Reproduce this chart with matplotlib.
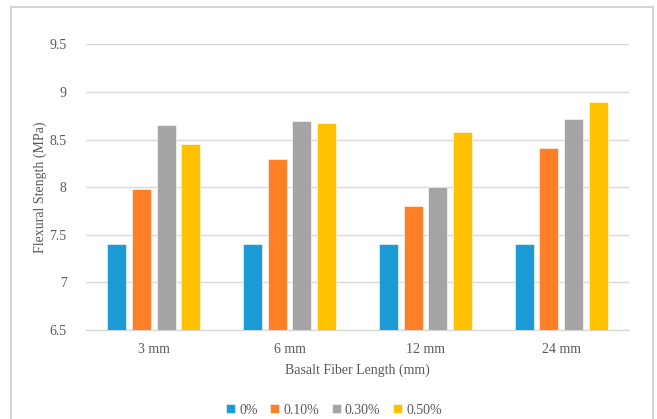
import matplotlib
matplotlib.use("Agg")
import matplotlib.pyplot as plt
import numpy as np
from matplotlib.patches import Rectangle

# Flexural strength by basalt fiber length and dosage
lengths = ["3 mm", "6 mm", "12 mm", "24 mm"]
dosages = ["0%", "0.10%", "0.30%", "0.50%"]
strength_0 = [7.40, 7.40, 7.40, 7.40]
strength_010 = [7.98, 8.30, 7.80, 8.41]
strength_030 = [8.65, 8.70, 8.00, 8.72]
strength_050 = [8.45, 8.68, 8.58, 8.90]
yticks = [6.5, 7, 7.5, 8, 8.5, 9, 9.5]

series = [strength_0, strength_010, strength_030, strength_050]
colors = ["#1B9AD6", "#FF7F27", "#A5A5A5", "#FFC000"]

plt.rcParams["font.family"] = ["Liberation Serif", "DejaVu Serif"]
text_color = "#595959"

W, H = 657, 419
fig = plt.figure(figsize=(W / 100, H / 100), dpi=100)

# chart-area border
fig.patches.append(Rectangle((11 / W, -0.05), (653 - 11) / W, 1.05 - 7 / H,
                             transform=fig.transFigure, fill=False,
                             edgecolor="#D0D0D0", linewidth=1.3))

ax = fig.add_axes([86 / W, 1 - 330 / H, (629 - 86) / W, (330 - 44.5) / H])

x = np.arange(len(lengths))
bar_w = 0.14
step = 0.182
for i, (vals, c, lab) in enumerate(zip(series, colors, dosages)):
    ax.bar(x + (i - 1.5) * step, vals, width=bar_w, color=c, label=lab,
           edgecolor="white", linewidth=0.4, zorder=3)

ax.set_ylim(6.5, 9.5)
ax.set_xlim(-0.5, len(lengths) - 0.5)
ax.set_yticks(yticks)
ax.set_yticklabels([f"{t:g}" for t in yticks])
ax.set_xticks(x)
ax.set_xticklabels(lengths)
ax.grid(axis="y", color="#D9D9D9", linewidth=1.0, zorder=0)
ax.tick_params(length=0, labelsize=10, colors=text_color)
ax.tick_params(axis="y", pad=14)
ax.tick_params(axis="x", pad=9)
for s in ["top", "right", "left"]:
    ax.spines[s].set_visible(False)
ax.spines["bottom"].set_color("#D9D9D9")
ax.spines["bottom"].set_linewidth(1.0)

ax.set_xlabel("Basalt Fiber Length (mm)", fontsize=10, color=text_color, labelpad=6)
ax.set_ylabel("Flexural Stength (MPa)", fontsize=10, color=text_color, labelpad=1.5)

fig.legend(loc="center", bbox_to_anchor=(334 / W, 1 - 410 / H), ncol=4,
           frameon=False, fontsize=10, handlelength=0.65, handleheight=0.65,
           handletextpad=0.3, columnspacing=0.9, labelcolor=text_color)

fig.savefig("out.png", dpi=100)
